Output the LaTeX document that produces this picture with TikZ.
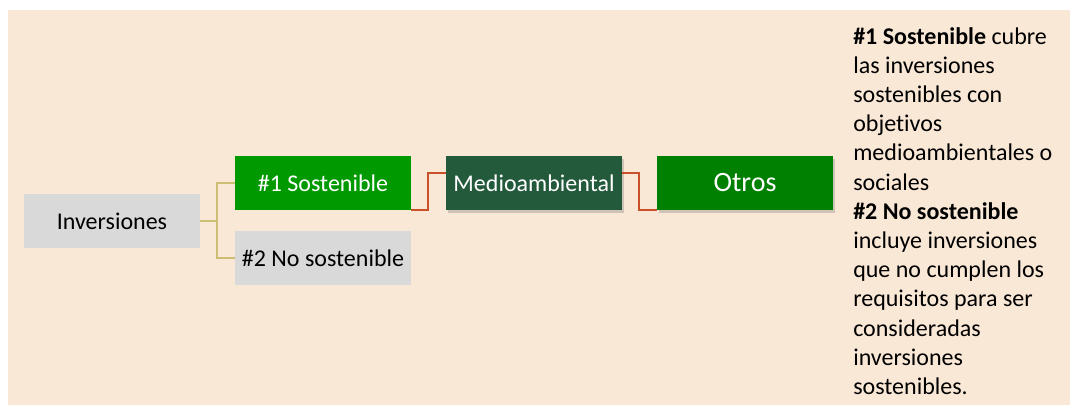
\documentclass[tikz,border=0pt]{standalone}
\usepackage{fontspec}
\setmainfont{Carlito}[Ligatures=NoCommon]
\usetikzlibrary{shadows}
\definecolor{bgpeach}{HTML}{FAE8D7}
\definecolor{boxgray}{HTML}{D9D9D9}
\definecolor{greenA}{HTML}{009900}
\definecolor{greenB}{HTML}{008000}
\definecolor{darkgreen}{HTML}{245A3C}
\definecolor{olive}{HTML}{CDBF72}
\definecolor{redline}{HTML}{C8502A}
\tikzset{
  px/.style={x=0.75pt,y=-0.75pt},
  boxbase/.style={minimum width=176*0.75pt, minimum height=54*0.75pt, inner sep=0pt, font=\fontsize{18}{21}\selectfont},
  graybox/.style={boxbase, fill=boxgray, text=black},
  greenbox/.style={boxbase, fill=greenA, text=white},
  darkbox/.style={boxbase, fill=darkgreen, text=white, drop shadow={opacity=0.35, shadow xshift=1.5pt, shadow yshift=-2pt}},
  otrosbox/.style={boxbase, fill=greenB, text=white, font=\fontsize{21}{24}\selectfont, drop shadow={opacity=0.35, shadow xshift=1.5pt, shadow yshift=-2pt}},
  oliveconn/.style={draw=olive, line width=1pt},
  redconn/.style={draw=redline, line width=1.2pt},
}
\begin{document}
\begin{tikzpicture}[px]
\useasboundingbox (0,0) rectangle (1070,405);
\fill[bgpeach] (8,10) rectangle (1070,405);
\node[graybox] (inv) at (112,221) {Inversiones};
\node[greenbox] (sost) at (323,183) {\#1 Sostenible};
\node[graybox] (nosost) at (323,258) {\#2 No sostenible};
\node[darkbox] (medio) at (534,183) {Medioambiental};
\node[otrosbox] (otros) at (745,183) {Otros};
\coordinate (j1) at (217,221);
\draw[oliveconn] (inv.east) -- (j1) |- (sost.west);
\draw[oliveconn] (j1) |- (nosost.west);
\coordinate (r1) at (428,173);
\coordinate (r2) at (639,173);
\draw[redconn] (sost.south east) -| (r1) -- (medio.west |- r1);
\draw[redconn] (medio.east |- r2) -- (r2) |- (otros.south west);
\node[anchor=north west, inner sep=0pt, align=left, font=\fontsize{18}{21.9}\selectfont] (txt) at (853,27)
{\textbf{\#1 Sostenible} cubre\\
las inversiones\\
sostenibles con\\
objetivos\\
medioambientales o\\
sociales\\
\textbf{\#2 No sostenible}\\
incluye inversiones\\
que no cumplen los\\
requisitos para ser\\
consideradas\\
inversiones\\
sostenibles.};
\end{tikzpicture}
\end{document}
